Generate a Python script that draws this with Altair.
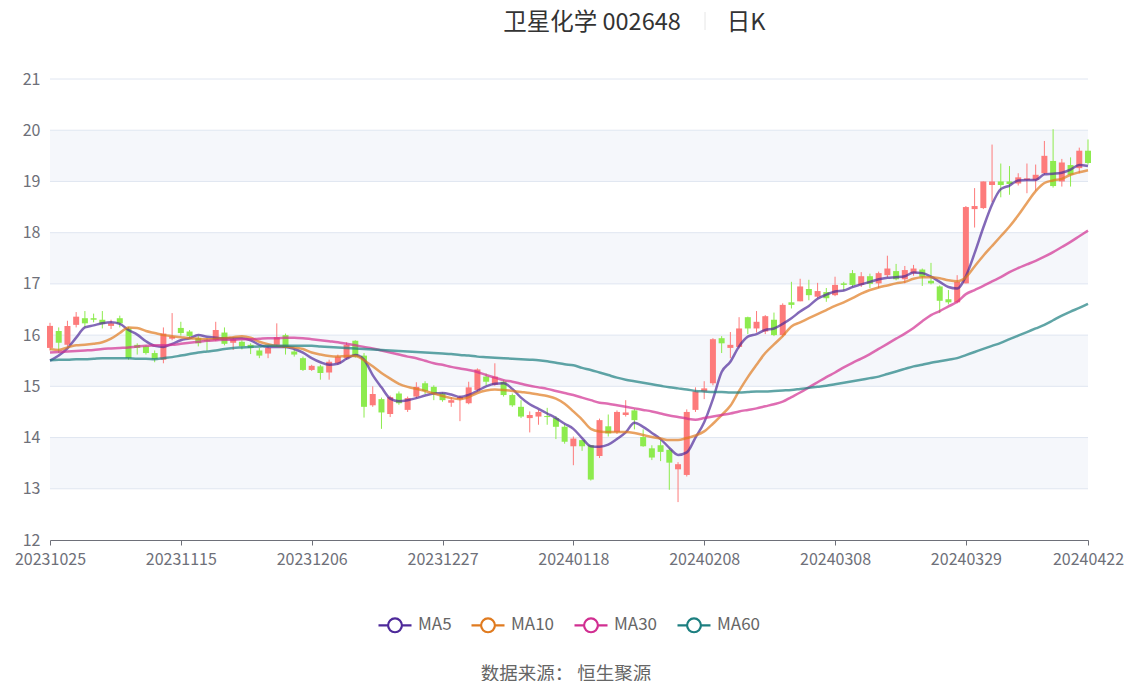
import altair as alt
import pandas as pd

FONT = "Noto Sans CJK SC"

tick_idx = [0, 15, 30, 45, 60, 75, 90, 105, 119]
tick_labels = ["20231025", "20231115", "20231206", "20231227", "20240118",
               "20240208", "20240308", "20240329", "20240422"]

opens = [15.75,16.08,15.81,16.20,16.33,16.33,16.30,16.18,16.33,16.13,
15.81,15.78,15.65,15.52,15.93,16.14,16.07,15.94,15.90,15.90,
16.05,15.85,15.87,15.81,15.70,15.64,15.81,16.00,15.68,15.55,
15.32,15.39,15.27,15.45,15.55,15.89,15.60,14.63,14.75,14.46,
14.86,14.54,14.80,15.06,14.99,14.86,14.68,14.75,14.67,14.93,
15.19,15.03,15.09,14.83,14.60,14.38,14.41,14.42,14.38,14.21,
13.83,13.95,13.85,13.64,14.22,14.11,14.44,14.53,14.01,13.79,
13.85,13.76,13.38,13.27,14.54,14.90,15.06,15.94,15.75,15.77,
16.35,16.13,16.07,16.30,16.00,16.64,16.66,16.90,16.75,16.84,
16.78,17.01,17.21,16.98,17.15,17.01,17.17,17.25,17.09,17.21,
17.28,17.06,16.95,16.70,16.64,17.01,18.46,18.48,18.93,19.00,
19.00,18.96,19.03,19.03,19.16,19.40,19.00,19.32,19.26,19.60]

closes = [16.18,15.85,16.18,16.36,16.23,16.30,16.22,16.23,16.23,15.55,
15.75,15.65,15.53,16.03,15.97,16.04,15.98,15.84,15.88,16.10,
15.83,15.92,15.78,15.75,15.60,15.75,15.96,15.75,15.62,15.32,
15.40,15.26,15.48,15.58,15.81,15.58,14.60,14.85,14.49,14.79,
14.67,14.77,14.99,14.91,14.86,14.73,14.73,14.79,14.98,15.33,
15.09,15.19,14.83,14.63,14.41,14.44,14.50,14.40,14.21,13.92,
13.98,13.83,13.18,14.34,14.08,14.50,14.49,14.34,13.83,13.61,
13.72,13.51,13.48,14.50,14.90,14.96,15.92,15.84,15.81,16.13,
16.13,16.26,16.37,16.00,16.59,16.59,16.95,16.78,16.86,16.72,
16.98,16.98,16.98,17.15,17.00,17.21,17.30,17.09,17.27,17.30,
17.14,17.01,16.67,16.64,17.04,18.50,18.52,19.00,19.00,18.93,
18.95,19.08,19.06,19.13,19.50,18.91,19.37,19.13,19.60,19.36]

highs = [16.24,16.15,16.28,16.45,16.47,16.42,16.47,16.30,16.38,16.16,
15.84,15.80,15.70,16.15,16.43,16.26,16.10,15.98,15.94,16.26,
16.15,15.95,15.90,15.84,15.75,15.80,16.23,16.03,15.72,15.58,
15.42,15.42,15.52,15.62,15.86,15.90,15.65,15.00,14.78,14.82,
14.90,14.80,15.08,15.10,15.02,14.88,14.79,14.82,15.09,15.35,
15.25,15.45,15.12,14.86,14.73,14.51,14.54,14.58,14.42,14.26,
14.02,13.95,13.85,14.37,14.45,14.53,14.73,14.56,14.16,13.85,
13.95,13.79,13.52,14.55,14.98,15.10,15.94,15.98,16.06,16.35,
16.36,16.47,16.39,16.44,16.62,17.04,17.10,17.08,17.02,16.92,
17.14,17.04,17.27,17.23,17.20,17.24,17.55,17.39,17.35,17.37,
17.30,17.41,16.97,16.88,17.17,18.52,18.87,19.00,19.72,19.35,
19.30,19.16,19.35,19.33,19.79,20.02,19.44,19.47,19.66,19.82]

lows = [15.70,15.65,15.78,16.15,16.15,16.25,16.13,16.12,16.15,15.52,
15.62,15.62,15.47,15.45,15.90,15.99,15.94,15.78,15.70,15.88,
15.80,15.71,15.72,15.63,15.55,15.55,15.78,15.62,15.58,15.30,
15.30,15.13,15.13,15.42,15.52,15.56,14.39,14.60,14.17,14.40,
14.64,14.50,14.77,14.85,14.73,14.70,14.60,14.32,14.65,14.90,
15.02,15.01,14.80,14.60,14.38,14.10,14.25,14.25,13.97,13.88,
13.46,13.74,13.16,13.60,14.02,14.07,14.41,14.16,13.82,13.56,
13.54,12.98,12.74,13.24,14.50,14.75,15.02,15.65,15.55,15.74,
16.02,16.05,16.02,15.98,15.97,16.52,16.66,16.68,16.72,16.65,
16.76,16.87,16.94,16.94,16.92,16.92,17.13,17.07,17.01,17.16,
16.96,16.99,16.43,16.60,16.62,17.01,18.10,18.46,18.60,18.69,
18.74,18.92,18.77,18.82,19.13,18.88,18.90,18.90,19.16,19.33]

ma5 = [15.50,15.60,15.74,15.95,16.15,16.19,16.23,16.25,16.22,16.10,
16.01,15.88,15.79,15.77,15.83,15.90,15.94,16.00,15.97,15.95,
15.94,15.94,15.94,15.90,15.81,15.77,15.77,15.77,15.73,15.66,
15.55,15.47,15.42,15.44,15.54,15.61,15.52,15.22,14.98,14.76,
14.71,14.73,14.77,14.82,14.86,14.87,14.84,14.79,14.83,14.91,
15.00,15.05,15.06,14.95,14.78,14.65,14.56,14.47,14.38,14.27,
14.17,13.99,13.83,13.82,13.86,13.97,14.10,14.29,14.21,14.09,
13.97,13.80,13.66,13.71,14.00,14.30,14.75,15.28,15.48,15.78,
15.97,16.02,16.10,16.13,16.22,16.33,16.46,16.57,16.71,16.79,
16.85,16.87,16.94,16.99,17.04,17.09,17.12,17.13,17.15,17.22,
17.21,17.14,17.04,16.94,16.91,17.15,17.60,18.10,18.55,18.85,
18.92,19.02,19.03,19.03,19.14,19.15,19.17,19.23,19.32,19.30]

ma10 = [15.73,15.71,15.76,15.80,15.81,15.83,15.86,15.93,16.04,16.15,
16.14,16.08,16.04,16.00,15.98,15.96,15.94,15.93,15.92,15.93,
15.94,15.96,15.98,15.95,15.87,15.82,15.79,15.78,15.76,15.73,
15.66,15.62,15.59,15.58,15.59,15.59,15.51,15.39,15.26,15.15,
15.05,14.99,14.95,14.91,14.86,14.81,14.77,14.75,14.79,14.87,
14.92,14.94,14.93,14.91,14.89,14.87,14.84,14.81,14.76,14.66,
14.51,14.35,14.17,14.12,14.11,14.11,14.11,14.09,14.05,14.01,
13.98,13.95,13.95,13.99,14.04,14.12,14.27,14.44,14.62,14.91,
15.18,15.42,15.65,15.82,15.98,16.17,16.25,16.33,16.41,16.49,
16.57,16.64,16.72,16.81,16.88,16.93,16.97,17.01,17.04,17.10,
17.13,17.13,17.11,17.07,17.05,17.13,17.34,17.55,17.74,17.93,
18.12,18.34,18.58,18.81,18.97,19.02,19.05,19.13,19.18,19.22]

ma30 = [15.66,15.67,15.68,15.69,15.70,15.71,15.73,15.74,15.75,15.76,
15.78,15.79,15.80,15.80,15.81,15.83,15.85,15.87,15.89,15.90,
15.91,15.91,15.92,15.92,15.93,15.94,15.94,15.95,15.95,15.94,
15.92,15.90,15.88,15.86,15.83,15.80,15.77,15.74,15.70,15.66,
15.62,15.58,15.55,15.50,15.45,15.42,15.38,15.35,15.32,15.28,
15.22,15.17,15.12,15.09,15.05,15.01,14.98,14.95,14.91,14.87,
14.83,14.78,14.73,14.68,14.66,14.63,14.60,14.57,14.54,14.51,
14.47,14.43,14.40,14.37,14.35,14.38,14.41,14.44,14.47,14.51,
14.54,14.57,14.61,14.65,14.70,14.79,14.88,14.98,15.08,15.18,
15.27,15.37,15.46,15.54,15.63,15.73,15.83,15.93,16.03,16.14,
16.27,16.39,16.47,16.56,16.65,16.80,16.88,16.96,17.05,17.13,
17.23,17.31,17.38,17.45,17.53,17.62,17.72,17.82,17.93,18.04]

ma60 = [15.51,15.52,15.52,15.53,15.53,15.54,15.55,15.55,15.55,15.55,
15.54,15.54,15.53,15.55,15.57,15.60,15.63,15.66,15.68,15.70,
15.73,15.75,15.76,15.77,15.78,15.79,15.79,15.79,15.79,15.79,
15.79,15.78,15.77,15.76,15.75,15.74,15.73,15.72,15.71,15.70,
15.69,15.68,15.67,15.66,15.65,15.64,15.63,15.61,15.60,15.58,
15.57,15.56,15.55,15.54,15.53,15.52,15.51,15.49,15.46,15.43,
15.41,15.36,15.32,15.27,15.22,15.17,15.13,15.10,15.07,15.04,
15.01,14.98,14.96,14.94,14.91,14.90,14.89,14.89,14.88,14.88,
14.89,14.90,14.90,14.91,14.92,14.93,14.95,14.97,14.99,15.01,
15.04,15.07,15.10,15.13,15.16,15.19,15.24,15.29,15.34,15.39,
15.42,15.46,15.49,15.52,15.55,15.61,15.67,15.73,15.79,15.85,
15.92,15.99,16.06,16.13,16.20,16.29,16.38,16.46,16.53,16.61]

series_names = ["MA5", "MA10", "MA30", "MA60"]
series_colors = ["#4e2a9a", "#e07b20", "#d12f91", "#1d7f80"]
band_lo = [13, 15, 17, 19]
grid_vals = [13, 14, 15, 16, 17, 18, 19, 20, 21]

n = len(opens)
candles = pd.DataFrame({"idx": list(range(n)), "open": opens, "close": closes,
                        "high": highs, "low": lows})
ma_rows = []
for name, vals in zip(series_names, [ma5, ma10, ma30, ma60]):
    for i, v in enumerate(vals):
        ma_rows.append({"idx": i, "value": v, "series": name})
ma_df = pd.DataFrame(ma_rows)
band_df = pd.DataFrame({"lo": band_lo, "hi": [b + 1 for b in band_lo]})
grid_df = pd.DataFrame({"v": grid_vals})

W, H = 1038, 461
RED = "#fd7b7b"
GREEN = "#8deb4e"
AXC = "#6E7079"

x_scale = alt.Scale(domain=[0, n - 1], nice=False, zero=False, padding=0)
y_scale = alt.Scale(domain=[12, 21], nice=False, zero=False)
label_expr = ("[" + ",".join(f"'{s}'" for s in tick_labels) + "][indexof(["
              + ",".join(str(v) for v in tick_idx) + "], datum.value)]")
x_axis = alt.Axis(values=tick_idx, labelExpr=label_expr, grid=False, domainColor=AXC,
                  tickColor=AXC, tickSize=5, labelColor=AXC, labelFontSize=16,
                  labelPadding=6, title=None, labelFont=FONT, labelFlush=False)
y_axis = alt.Axis(values=list(range(12, 22)), grid=False, domain=False, ticks=False,
                  labelColor=AXC, labelFontSize=16, labelPadding=10, title=None,
                  labelFont=FONT)

X = alt.X("idx:Q", scale=x_scale, axis=x_axis)

bands = alt.Chart(band_df).mark_rect(color="#f5f7fb").encode(
    x=alt.value(0), x2=alt.value(W),
    y=alt.Y("lo:Q", scale=y_scale, axis=y_axis), y2="hi:Q")

grid = alt.Chart(grid_df).mark_rule(color="#E0E6F1", strokeWidth=1).encode(
    x=alt.value(0), x2=alt.value(W),
    y=alt.Y("v:Q", scale=y_scale, axis=y_axis))

cond = alt.condition("datum.close >= datum.open", alt.value(RED), alt.value(GREEN))

wicks = alt.Chart(candles).mark_rule(strokeWidth=1).encode(
    x=X, y=alt.Y("low:Q", scale=y_scale, axis=y_axis), y2="high:Q", color=cond)

bodies = alt.Chart(candles).mark_bar(size=6).encode(
    x=X, y=alt.Y("open:Q", scale=y_scale, axis=y_axis), y2="close:Q", color=cond)

sym = "M-1,0L-0.42,0M0.42,0L1,0M-0.42,0A0.42,0.42,0,1,1,0.42,0A0.42,0.42,0,1,1,-0.42,0"
legend = alt.Legend(orient="none", legendX=327, legendY=528, direction="horizontal",
                    title=None, symbolType=sym, symbolSize=1090, symbolStrokeWidth=2.2,
                    symbolFillColor="white", symbolOpacity=1, labelFontSize=17,
                    labelColor="#666666", labelFont=FONT, columnPadding=15,
                    labelOffset=5, padding=0)

lines = alt.Chart(ma_df).mark_line(interpolate="monotone", strokeWidth=2.5, opacity=0.7).encode(
    x=X, y=alt.Y("value:Q", scale=y_scale, axis=y_axis),
    color=alt.Color("series:N", scale=alt.Scale(domain=series_names, range=series_colors),
                    legend=legend, sort=series_names))

def text_layer(txt, x, y, size, color):
    return alt.Chart(pd.DataFrame({"t": [txt]})).mark_text(
        font=FONT, fontSize=size, color=color, align="center", baseline="middle").encode(
        text="t:N", x=alt.value(x), y=alt.value(y))

title1 = text_layer("卫星化学 002648", 542, -56, 23.5, "#333333")
title2 = text_layer("日K", 696, -56, 23.5, "#333333")
sep = alt.Chart(pd.DataFrame({"a": [0]})).mark_rule(color="#e6e6e6", strokeWidth=1).encode(
    x=alt.value(655), y=alt.value(-67), y2=alt.value(-49))
footer = text_layer("数据来源： 恒生聚源", 516, 595, 18.5, "#666666")

chart = alt.layer(bands, grid, wicks, bodies, lines, title1, sep, title2, footer).properties(
    width=W, height=H,
    padding={"left": 42, "top": 71, "right": 38, "bottom": 141},
    autosize=alt.AutoSizeParams(type="none"),
).configure_view(stroke=None)

chart.save("out.html", embed_options={"renderer": "svg", "actions": False})
